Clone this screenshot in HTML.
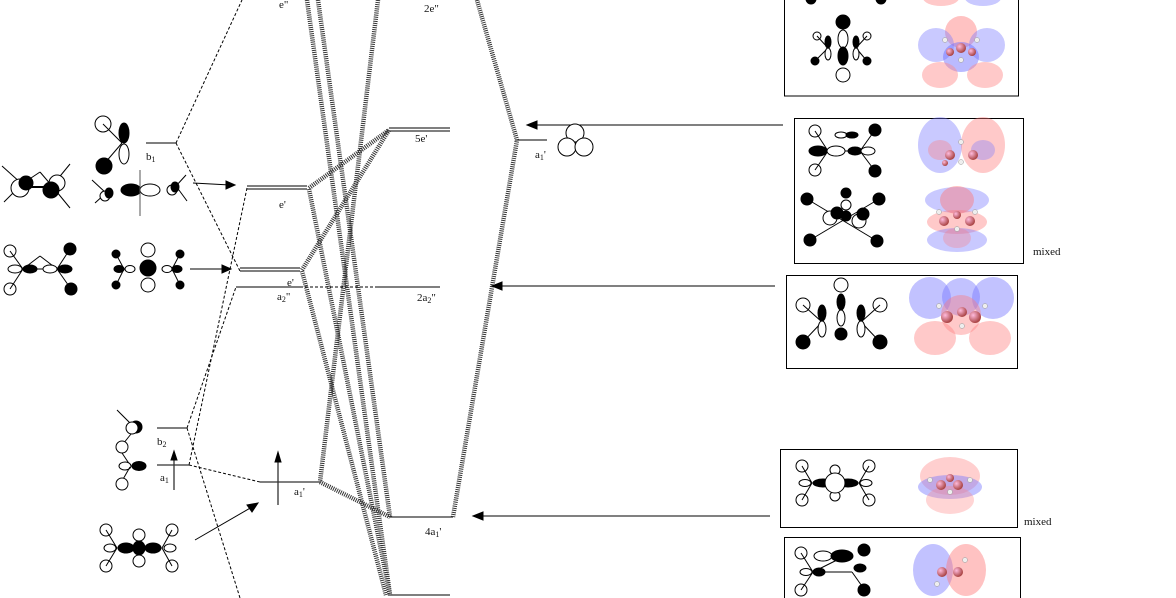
<!DOCTYPE html>
<html><head><meta charset="utf-8"><style>
html,body{margin:0;padding:0;background:#fff;}
svg{display:block;}
text{font-family:"Liberation Serif",serif;font-size:11px;fill:#111;}
</style></head><body>
<svg width="1176" height="598" viewBox="0 0 1176 598" xmlns="http://www.w3.org/2000/svg">
<defs>
<radialGradient id="ball" cx="35%" cy="35%" r="65%"><stop offset="0" stop-color="#fbd"/><stop offset="1" stop-color="#a44"/></radialGradient>
</defs>
<g fill="none" stroke="#000" stroke-width="1">
<g stroke-dasharray="3 2">
<line x1="176" y1="143" x2="242" y2="0"/>
<line x1="176" y1="143" x2="240" y2="271"/>
<line x1="189" y1="465" x2="247" y2="188"/>
<line x1="187" y1="428" x2="236" y2="287"/>
<line x1="187" y1="428" x2="240" y2="598"/>
<line x1="189" y1="465" x2="260" y2="482"/>
<line x1="300" y1="287" x2="378" y2="287"/>
</g>
</g>
<g fill="none" stroke="#333" stroke-width="4.5" stroke-dasharray="1 1.1">
<line x1="307" y1="0" x2="390" y2="595"/>
<line x1="318" y1="0" x2="390" y2="517"/>
<line x1="378" y1="0" x2="320" y2="482"/>
<line x1="309" y1="189" x2="390" y2="595"/>
<line x1="309" y1="188" x2="389" y2="130"/>
<line x1="302" y1="270" x2="389" y2="130"/>
<line x1="302" y1="271" x2="386" y2="595"/>
<line x1="320" y1="482" x2="390" y2="517"/>
<polyline points="477,0 517,140 453,517"/>
</g>
<g stroke="#333" stroke-width="1.3">
<line x1="146" y1="143" x2="176" y2="143"/>
<line x1="247" y1="186" x2="307" y2="186"/><line x1="247" y1="189" x2="307" y2="189"/>
<line x1="240" y1="268" x2="300" y2="268"/><line x1="240" y1="271" x2="300" y2="271"/>
<line x1="236" y1="287" x2="300" y2="287"/>
<line x1="378" y1="287" x2="440" y2="287"/>
<line x1="389" y1="128" x2="450" y2="128"/><line x1="389" y1="131" x2="450" y2="131"/>
<line x1="515" y1="140" x2="547" y2="140"/>
<line x1="390" y1="517" x2="453" y2="517"/>
<line x1="388" y1="595" x2="450" y2="595"/>
<line x1="157" y1="428" x2="187" y2="428"/>
<line x1="157" y1="465" x2="189" y2="465"/>
<line x1="260" y1="482" x2="320" y2="482"/>
<line x1="174" y1="490" x2="174" y2="455"/>
<line x1="278" y1="505" x2="278" y2="457"/>
</g>
<g stroke="#000" stroke-width="1" fill="#000">
<line x1="193" y1="183" x2="230" y2="185"/><polygon points="235,185 226,181 226,189"/>
<line x1="190" y1="269" x2="225" y2="269"/><polygon points="231,269 222,265 222,273"/>
<line x1="783" y1="125" x2="534" y2="125"/><polygon points="527,125 537,121 537,129"/>
<line x1="775" y1="286" x2="499" y2="286"/><polygon points="492,286 502,282 502,290"/>
<line x1="770" y1="516" x2="480" y2="516"/><polygon points="473,516 483,512 483,520"/>
<line x1="195" y1="540" x2="252" y2="507"/><polygon points="258,503 247,505 252,512"/>
<polygon points="174,451 171,460 177,460"/>
<polygon points="278,452 275,462 281,462"/>
</g>
<text x="279" y="8">e"</text>
<text x="424" y="12">2e"</text>
<text x="146" y="160">b<tspan font-size="8" dy="2">1</tspan></text>
<text x="279" y="208">e'</text>
<text x="415" y="142">5e'</text>
<text x="535" y="158">a<tspan font-size="8" dy="2">1</tspan><tspan dy="-2">'</tspan></text>
<text x="287" y="286">e'</text>
<text x="277" y="300">a<tspan font-size="8" dy="2">2</tspan><tspan dy="-2">"</tspan></text>
<text x="417" y="301">2a<tspan font-size="8" dy="2">2</tspan><tspan dy="-2">"</tspan></text>
<text x="157" y="445">b<tspan font-size="8" dy="2">2</tspan></text>
<text x="160" y="481">a<tspan font-size="8" dy="2">1</tspan></text>
<text x="294" y="495">a<tspan font-size="8" dy="2">1</tspan><tspan dy="-2">'</tspan></text>
<text x="425" y="535">4a<tspan font-size="8" dy="2">1</tspan><tspan dy="-2">'</tspan></text>
<text x="1033" y="255">mixed</text>
<text x="1024" y="525">mixed</text>
<g fill="#fff" stroke="#000"><circle cx="575" cy="133" r="9"/><circle cx="567" cy="147" r="9"/><circle cx="584" cy="147" r="9"/></g>

<g stroke="#000" stroke-width="1" fill="#fff">
<circle cx="103" cy="124" r="8"/><line x1="103" y1="124" x2="122" y2="143"/><line x1="122" y1="143" x2="104" y2="164"/>
<circle cx="104" cy="166" r="8" fill="#000"/>
<ellipse cx="124" cy="133" rx="5" ry="10" fill="#000"/><ellipse cx="124" cy="154" rx="5" ry="10"/>
<line x1="2" y1="166" x2="22" y2="184"/><line x1="4" y1="202" x2="22" y2="184"/>
<line x1="22" y1="184" x2="40" y2="172"/><line x1="40" y1="172" x2="52" y2="186"/>
<line x1="52" y1="186" x2="70" y2="164"/><line x1="52" y1="186" x2="70" y2="208"/>
<circle cx="20" cy="188" r="9"/><circle cx="26" cy="183" r="7" fill="#000"/>
<circle cx="57" cy="183" r="8"/><circle cx="51" cy="190" r="8" fill="#000"/>
<line x1="28" y1="187" x2="48" y2="187" stroke-width="2"/>
<line x1="92" y1="180" x2="106" y2="193"/><line x1="106" y1="193" x2="95" y2="203"/>
<circle cx="105" cy="196" r="5"/><ellipse cx="109" cy="193" rx="4" ry="5" fill="#000"/>
<ellipse cx="131" cy="190" rx="10" ry="6" fill="#000"/><ellipse cx="150" cy="190" rx="10" ry="6"/>
<line x1="140" y1="170" x2="140" y2="216" stroke="#555"/>
<circle cx="172" cy="190" r="5"/><ellipse cx="175" cy="187" rx="4" ry="5" fill="#000"/>
<line x1="176" y1="186" x2="186" y2="175"/><line x1="176" y1="186" x2="187" y2="201"/>
<circle cx="10" cy="251" r="6"/><circle cx="10" cy="289" r="6"/>
<circle cx="70" cy="249" r="6" fill="#000"/><circle cx="71" cy="289" r="6" fill="#000"/>
<line x1="10" y1="251" x2="23" y2="269"/><line x1="10" y1="289" x2="23" y2="269"/>
<line x1="70" y1="249" x2="57" y2="269"/><line x1="71" y1="289" x2="57" y2="269"/>
<line x1="23" y1="269" x2="40" y2="256"/><line x1="40" y1="256" x2="57" y2="269"/>
<line x1="23" y1="269" x2="57" y2="269"/>
<ellipse cx="15" cy="269" rx="7" ry="4"/><ellipse cx="30" cy="269" rx="7" ry="4" fill="#000"/>
<ellipse cx="50" cy="269" rx="7" ry="4"/><ellipse cx="65" cy="269" rx="7" ry="4" fill="#000"/>
<circle cx="116" cy="254" r="4" fill="#000"/><circle cx="116" cy="285" r="4" fill="#000"/>
<line x1="116" y1="254" x2="124" y2="269"/><line x1="116" y1="285" x2="124" y2="269"/>
<ellipse cx="119" cy="269" rx="5" ry="3.5" fill="#000"/><ellipse cx="130" cy="269" rx="5" ry="3.5"/>
<circle cx="148" cy="250" r="7"/><circle cx="148" cy="268" r="8" fill="#000"/><circle cx="148" cy="285" r="7"/>
<ellipse cx="167" cy="269" rx="5" ry="3.5"/><ellipse cx="177" cy="269" rx="5" ry="3.5" fill="#000"/>
<circle cx="180" cy="254" r="4" fill="#000"/><circle cx="180" cy="285" r="4" fill="#000"/>
<line x1="180" y1="254" x2="172" y2="269"/><line x1="180" y1="285" x2="172" y2="269"/>
<line x1="117" y1="410" x2="131" y2="424"/>
<ellipse cx="136" cy="427" rx="6" ry="6" fill="#000"/><circle cx="132" cy="428" r="6"/>
<line x1="131" y1="434" x2="123" y2="444"/>
<circle cx="122" cy="447" r="6"/>
<line x1="122" y1="453" x2="130" y2="465"/>
<ellipse cx="125" cy="466" rx="6" ry="4"/><ellipse cx="139" cy="466" rx="7" ry="4.5" fill="#000"/>
<line x1="130" y1="467" x2="122" y2="481"/>
<circle cx="122" cy="484" r="6"/>
<circle cx="106" cy="530" r="6"/><circle cx="106" cy="566" r="6"/>
<line x1="106" y1="530" x2="117" y2="548"/><line x1="106" y1="566" x2="117" y2="548"/>
<ellipse cx="110" cy="548" rx="6" ry="4"/><ellipse cx="126" cy="548" rx="8" ry="5" fill="#000"/>
<circle cx="139" cy="535" r="6"/><ellipse cx="139" cy="548" rx="6" ry="7" fill="#000"/><circle cx="139" cy="561" r="6"/>
<ellipse cx="153" cy="548" rx="8" ry="5" fill="#000"/><ellipse cx="170" cy="548" rx="6" ry="4"/>
<circle cx="172" cy="530" r="6"/><circle cx="172" cy="566" r="6"/>
<line x1="172" y1="530" x2="162" y2="548"/><line x1="172" y1="566" x2="162" y2="548"/>
</g>

<g fill="none" stroke="#000" stroke-width="1">
<rect x="784.5" y="-5" width="234" height="101"/>
<rect x="794.5" y="118.5" width="229" height="145"/>
<rect x="786.5" y="275.5" width="231" height="93"/>
<rect x="780.5" y="449.5" width="237" height="78"/>
<rect x="784.5" y="537.5" width="236" height="70"/>
</g>
<g stroke="#000" stroke-width="1" fill="#fff">
<circle cx="811" cy="-1" r="5" fill="#000"/><circle cx="881" cy="-1" r="5" fill="#000"/>
<circle cx="843" cy="22" r="7" fill="#000"/>
<ellipse cx="843" cy="39" rx="5" ry="9"/><ellipse cx="843" cy="56" rx="5" ry="9" fill="#000"/>
<circle cx="843" cy="75" r="7"/>
<circle cx="817" cy="36" r="4"/><circle cx="867" cy="36" r="4"/>
<circle cx="815" cy="61" r="4" fill="#000"/><circle cx="867" cy="61" r="4" fill="#000"/>
<line x1="817" y1="36" x2="828" y2="48"/><line x1="815" y1="61" x2="828" y2="48"/>
<line x1="867" y1="36" x2="856" y2="48"/><line x1="867" y1="61" x2="856" y2="48"/>
<ellipse cx="828" cy="42" rx="3" ry="6" fill="#000"/><ellipse cx="828" cy="54" rx="3" ry="6"/>
<ellipse cx="856" cy="42" rx="3" ry="6" fill="#000"/><ellipse cx="856" cy="54" rx="3" ry="6"/>
<circle cx="815" cy="131" r="6"/><circle cx="875" cy="130" r="6" fill="#000"/>
<circle cx="815" cy="170" r="6"/><circle cx="875" cy="171" r="6" fill="#000"/>
<line x1="815" y1="131" x2="828" y2="151"/><line x1="815" y1="170" x2="828" y2="151"/>
<line x1="875" y1="130" x2="860" y2="151"/><line x1="875" y1="171" x2="860" y2="151"/>
<line x1="828" y1="151" x2="860" y2="151"/>
<ellipse cx="818" cy="151" rx="9" ry="5" fill="#000"/><ellipse cx="836" cy="151" rx="9" ry="5"/>
<ellipse cx="855" cy="151" rx="7" ry="4" fill="#000"/><ellipse cx="868" cy="151" rx="7" ry="4"/>
<ellipse cx="841" cy="135" rx="6" ry="3"/><ellipse cx="852" cy="135" rx="6" ry="3" fill="#000"/>
<circle cx="807" cy="199" r="6" fill="#000"/><circle cx="879" cy="199" r="6" fill="#000"/>
<circle cx="810" cy="240" r="6" fill="#000"/><circle cx="877" cy="241" r="6" fill="#000"/>
<line x1="807" y1="199" x2="877" y2="241"/><line x1="879" y1="199" x2="810" y2="240"/>
<circle cx="846" cy="193" r="5" fill="#000"/><circle cx="846" cy="205" r="5"/>
<circle cx="830" cy="218" r="7"/><circle cx="837" cy="213" r="6" fill="#000"/>
<circle cx="859" cy="221" r="7"/><circle cx="863" cy="214" r="6" fill="#000"/>
<circle cx="846" cy="216" r="5" fill="#000"/>
<circle cx="841" cy="285" r="7"/><ellipse cx="841" cy="302" rx="4" ry="8" fill="#000"/><ellipse cx="841" cy="318" rx="4" ry="8"/><circle cx="841" cy="334" r="6" fill="#000"/>
<circle cx="803" cy="305" r="7"/><circle cx="803" cy="342" r="7" fill="#000"/>
<circle cx="880" cy="305" r="7"/><circle cx="880" cy="342" r="7" fill="#000"/>
<line x1="803" y1="305" x2="822" y2="322"/><line x1="803" y1="342" x2="822" y2="322"/>
<line x1="880" y1="305" x2="861" y2="322"/><line x1="880" y1="342" x2="861" y2="322"/>
<ellipse cx="822" cy="313" rx="4" ry="8" fill="#000"/><ellipse cx="822" cy="329" rx="4" ry="8"/>
<ellipse cx="861" cy="313" rx="4" ry="8" fill="#000"/><ellipse cx="861" cy="329" rx="4" ry="8"/>
<circle cx="802" cy="466" r="6"/><circle cx="802" cy="500" r="6"/>
<circle cx="869" cy="466" r="6"/><circle cx="869" cy="500" r="6"/>
<line x1="802" y1="466" x2="812" y2="483"/><line x1="802" y1="500" x2="812" y2="483"/>
<line x1="869" y1="466" x2="859" y2="483"/><line x1="869" y1="500" x2="859" y2="483"/>
<ellipse cx="805" cy="483" rx="6" ry="3.5"/><ellipse cx="866" cy="483" rx="6" ry="3.5"/>
<ellipse cx="823" cy="483" rx="10" ry="4" fill="#000"/><ellipse cx="848" cy="483" rx="10" ry="4" fill="#000"/>
<circle cx="835" cy="470" r="5"/><circle cx="835" cy="496" r="5"/>
<circle cx="835" cy="483" r="10"/>
<circle cx="801" cy="553" r="6"/><circle cx="801" cy="590" r="6"/>
<line x1="801" y1="553" x2="813" y2="572"/><line x1="801" y1="590" x2="813" y2="572"/>
<ellipse cx="806" cy="572" rx="6" ry="3.5"/><ellipse cx="819" cy="572" rx="6" ry="4" fill="#000"/>
<line x1="813" y1="572" x2="852" y2="572"/>
<ellipse cx="823" cy="556" rx="9" ry="5"/><ellipse cx="842" cy="556" rx="11" ry="6" fill="#000"/>
<circle cx="864" cy="550" r="6" fill="#000"/><ellipse cx="860" cy="568" rx="6" ry="4" fill="#000"/>
<line x1="813" y1="572" x2="845" y2="556"/><line x1="852" y1="572" x2="864" y2="589"/>
<circle cx="864" cy="590" r="6" fill="#000"/>
</g>

<g stroke="none">
<g>
<ellipse cx="941" cy="-2" rx="18" ry="8" fill="#f88" opacity="0.45"/><ellipse cx="983" cy="-2" rx="18" ry="8" fill="#88f" opacity="0.45"/>
<ellipse cx="961" cy="32" rx="16" ry="16" fill="#f77" opacity="0.45"/>
<ellipse cx="936" cy="45" rx="18" ry="17" fill="#77f" opacity="0.4"/><ellipse cx="987" cy="45" rx="18" ry="17" fill="#77f" opacity="0.4"/>
<ellipse cx="961" cy="57" rx="18" ry="15" fill="#66f" opacity="0.45"/>
<ellipse cx="940" cy="75" rx="18" ry="13" fill="#f88" opacity="0.45"/><ellipse cx="985" cy="75" rx="18" ry="13" fill="#f88" opacity="0.45"/>
</g>
<g>
<ellipse cx="940" cy="145" rx="22" ry="28" fill="#77f" opacity="0.4"/><ellipse cx="983" cy="145" rx="22" ry="28" fill="#f77" opacity="0.4"/>
<ellipse cx="940" cy="150" rx="12" ry="10" fill="#f77" opacity="0.35"/><ellipse cx="983" cy="150" rx="12" ry="10" fill="#77f" opacity="0.35"/>
</g>
<g>
<ellipse cx="957" cy="200" rx="32" ry="13" fill="#77f" opacity="0.4"/>
<ellipse cx="957" cy="200" rx="17" ry="14" fill="#f77" opacity="0.45"/>
<ellipse cx="957" cy="222" rx="30" ry="12" fill="#f77" opacity="0.4"/>
<ellipse cx="957" cy="240" rx="30" ry="12" fill="#77f" opacity="0.4"/>
<ellipse cx="957" cy="238" rx="14" ry="10" fill="#f77" opacity="0.3"/>
</g>
<g>
<ellipse cx="930" cy="298" rx="21" ry="21" fill="#77f" opacity="0.45"/><ellipse cx="993" cy="298" rx="21" ry="21" fill="#77f" opacity="0.45"/>
<ellipse cx="961" cy="297" rx="19" ry="19" fill="#77f" opacity="0.45"/>
<ellipse cx="961" cy="315" rx="20" ry="20" fill="#f77" opacity="0.4"/>
<ellipse cx="935" cy="338" rx="21" ry="17" fill="#f88" opacity="0.45"/><ellipse cx="990" cy="338" rx="21" ry="17" fill="#f88" opacity="0.45"/>
</g>
<g>
<ellipse cx="950" cy="476" rx="30" ry="19" fill="#f88" opacity="0.4"/>
<ellipse cx="950" cy="487" rx="32" ry="12" fill="#77f" opacity="0.45"/>
<ellipse cx="950" cy="500" rx="24" ry="14" fill="#f88" opacity="0.35"/>
</g>
<g>
<ellipse cx="933" cy="570" rx="20" ry="26" fill="#77f" opacity="0.45"/>
<ellipse cx="966" cy="570" rx="20" ry="26" fill="#f77" opacity="0.45"/>
</g>
<g fill="url(#ball)">
<circle cx="961" cy="48" r="5"/><circle cx="950" cy="52" r="4"/><circle cx="972" cy="52" r="4"/>
<circle cx="950" cy="155" r="5"/><circle cx="973" cy="155" r="5"/><circle cx="945" cy="163" r="3"/>
<circle cx="944" cy="221" r="5"/><circle cx="970" cy="221" r="5"/><circle cx="957" cy="215" r="4"/>
<circle cx="947" cy="317" r="6"/><circle cx="962" cy="312" r="5"/><circle cx="975" cy="317" r="6"/>
<circle cx="941" cy="485" r="5"/><circle cx="958" cy="485" r="5"/><circle cx="950" cy="478" r="4"/>
<circle cx="942" cy="572" r="5"/><circle cx="958" cy="572" r="5"/>
</g>
<g fill="#eee" stroke="#999" stroke-width="0.5">
<circle cx="945" cy="40" r="2.5"/><circle cx="977" cy="40" r="2.5"/><circle cx="961" cy="60" r="2.5"/>
<circle cx="961" cy="142" r="2.5"/><circle cx="961" cy="162" r="2.5"/>
<circle cx="957" cy="229" r="2.5"/><circle cx="939" cy="212" r="2.5"/><circle cx="975" cy="212" r="2.5"/>
<circle cx="962" cy="326" r="2.5"/><circle cx="939" cy="306" r="2.5"/><circle cx="985" cy="306" r="2.5"/>
<circle cx="950" cy="492" r="2.5"/><circle cx="930" cy="480" r="2.5"/><circle cx="970" cy="480" r="2.5"/>
<circle cx="937" cy="584" r="2.5"/><circle cx="965" cy="560" r="2.5"/>
</g>
</g>
</svg>
</body></html>
